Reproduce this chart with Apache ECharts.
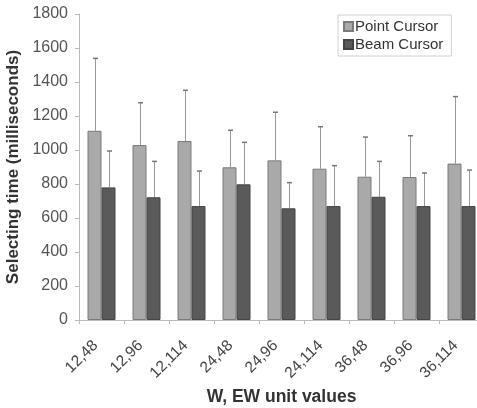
<!DOCTYPE html>
<html>
<head>
<meta charset="utf-8">
<script src="https://cdn.jsdelivr.net/npm/echarts@6/dist/echarts.min.js"></script>
<style>html,body{margin:0;padding:0;background:#fff}#c{width:477px;height:408px}</style>
</head>
<body>
<div id="c"></div>
<script>
const categories = ['12,48','12,96','12,114','24,48','24,96','24,114','36,48','36,96','36,114'];
const pointMean = [1113, 1029, 1053, 898, 939, 890, 843, 841, 920];
const pointErrTop = [1539, 1278, 1351, 1116, 1222, 1137, 1076, 1084, 1314];
const beamMean = [780, 722, 670, 798, 657, 670, 725, 670, 670];
const beamErrTop = [994, 933, 876, 1045, 808, 908, 933, 865, 882];
const yTicks = [0, 200, 400, 600, 800, 1000, 1200, 1400, 1600, 1800];

const chart = echarts.init(document.getElementById('c'));
const font = 'Liberation Sans, Arial, sans-serif';

function errSeries(means, tops, offset) {
  return {
    type: 'custom',
    silent: true,
    z: 1,
    data: means.map((m, i) => [i, m, tops[i]]),
    renderItem: function (params, api) {
      const base = api.coord([api.value(0), api.value(1)]);
      const top = api.coord([api.value(0), api.value(2)]);
      const x = Math.round(base[0] + offset) + 0.5;
      return {
        type: 'group',
        children: [
          {type: 'line', shape: {x1: x, y1: base[1], x2: x, y2: top[1]}, style: {stroke: '#999', lineWidth: 1}},
          {type: 'line', shape: {x1: x - 2.5, y1: top[1], x2: x + 2.5, y2: top[1]}, style: {stroke: '#777', lineWidth: 1.5}}
        ]
      };
    }
  };
}

chart.setOption({
  animation: false,
  textStyle: {fontFamily: font},
  grid: {left: 79, right: -7, top: 14, bottom: 88, containLabel: false, outerBoundsMode: 'none'},
  legend: {
    orient: 'vertical', left: 338, top: 15,
    padding: [4, 8, 4, 5], itemGap: 3,
    itemWidth: 9, itemHeight: 9, icon: 'rect',
    borderColor: '#d0d0d0', borderWidth: 1,
    textStyle: {fontFamily: font, fontSize: 15, color: '#333', padding: [0, 0, 0, -3]},
    data: ['Point Cursor', 'Beam Cursor']
  },
  xAxis: {
    type: 'category',
    data: categories,
    name: 'W, EW unit values',
    nameLocation: 'middle',
    nameGap: 68,
    nameTextStyle: {fontFamily: font, fontSize: 17.5, fontWeight: 'bold', color: '#333'},
    axisLine: {lineStyle: {color: '#bbb'}},
    axisTick: {show: true, length: 4, lineStyle: {color: '#bbb'}},
    axisLabel: {rotate: 45, fontSize: 15.5, color: '#444', margin: 17, padding: [0, 8.5, 0, 0], interval: 0}
  },
  yAxis: {
    type: 'value',
    min: 0, max: 1800, interval: 200,
    name: 'Selecting time (milliseconds)',
    nameLocation: 'middle',
    nameGap: 54,
    nameTextStyle: {fontFamily: font, fontSize: 17, fontWeight: 'bold', color: '#333'},
    axisLine: {show: true, lineStyle: {color: '#bbb'}},
    axisTick: {show: true, length: 4, lineStyle: {color: '#bbb'}},
    splitLine: {show: false},
    axisLabel: {
      fontSize: 16, color: '#555', margin: 11,
      formatter: v => (yTicks.indexOf(v) >= 0 ? String(v) : '')
    }
  },
  series: [
    {
      name: 'Point Cursor', type: 'bar', data: pointMean,
      barWidth: 14, barGap: '0%', z: 2,
      itemStyle: {color: '#a9a9a9', borderColor: '#7a7a7a', borderWidth: 1}
    },
    {
      name: 'Beam Cursor', type: 'bar', data: beamMean,
      barWidth: 14, barGap: '0%', z: 2,
      itemStyle: {color: '#5a5a5a', borderColor: '#444', borderWidth: 1}
    },
    errSeries(pointMean, pointErrTop, -7),
    errSeries(beamMean, beamErrTop, 7)
  ]
});
</script>
</body>
</html>
